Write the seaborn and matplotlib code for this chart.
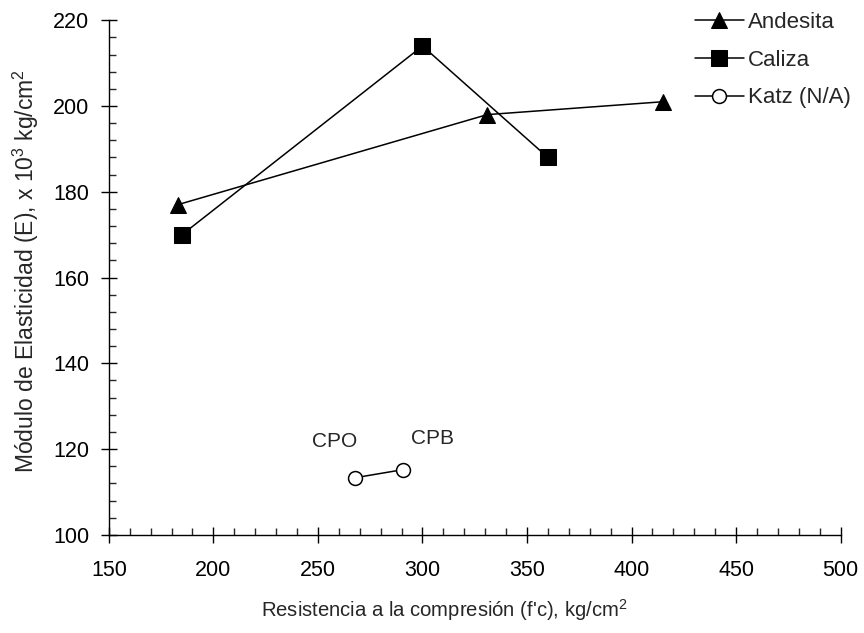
import matplotlib
matplotlib.use("Agg")
import matplotlib.pyplot as plt
import seaborn as sns
import pandas as pd
from matplotlib.ticker import MultipleLocator

sns.set_style("ticks")
plt.rcParams['font.family'] = ['Liberation Sans', 'DejaVu Sans']
plt.rcParams['mathtext.default'] = 'regular'

andesita_x = [183, 331, 415]
andesita_y = [177, 198, 201]
caliza_x = [185, 300, 360]
caliza_y = [170, 214, 188]
katz_x = [267.5, 290.5]
katz_y = [113.3, 115.2]
katz_labels = ["CPO", "CPB"]
katz_label_x = [258, 305]
katz_label_y = [121.7, 122.4]

x_ticks = [150, 200, 250, 300, 350, 400, 450, 500]
y_ticks = [100, 120, 140, 160, 180, 200, 220]

FS = 15

fig = plt.figure(figsize=(8.64, 6.33), dpi=100)
ax = fig.add_axes([0.126, 0.155, 0.847, 0.813])

sns.lineplot(x=andesita_x, y=andesita_y, ax=ax, color='black', lw=1.1,
             marker='^', markersize=12, markeredgecolor='black', label='Andesita')
sns.lineplot(x=caliza_x, y=caliza_y, ax=ax, color='black', lw=1.1,
             marker='s', markersize=11, markeredgecolor='black', label='Caliza')
sns.lineplot(x=katz_x, y=katz_y, ax=ax, color='black', lw=1.1,
             marker='o', markersize=10, markerfacecolor='white',
             markeredgecolor='black', markeredgewidth=1.1, label='Katz (N/A)')

for t, xx, yy in zip(katz_labels, katz_label_x, katz_label_y):
    ax.text(xx, yy, t, ha='center', va='center', fontsize=FS)

ax.set_xlim(150, 500)
ax.set_ylim(100, 220)
ax.set_xticks(x_ticks)
ax.set_yticks(y_ticks)
ax.xaxis.set_minor_locator(MultipleLocator(10))
ax.yaxis.set_minor_locator(MultipleLocator(4))
ax.tick_params(which='major', direction='inout', length=12, width=1, labelsize=15.5, colors='black')
ax.tick_params(axis='x', which='major', pad=12)
ax.tick_params(axis='y', which='major', pad=8)
ax.tick_params(which='minor', direction='in', length=5, width=1)
for s in ['top', 'right']:
    ax.spines[s].set_visible(False)
for s in ['left', 'bottom']:
    ax.spines[s].set_color('black')
    ax.spines[s].set_linewidth(1)

ax.set_xlabel("Resistencia a la compresión (f'c), kg/cm$^{2}$", fontsize=14.6, labelpad=12, x=0.459)
ax.set_ylabel("Módulo de Elasticidad (E), x 10$^{3}$ kg/cm$^{2}$", fontsize=16.5, labelpad=9, y=0.513)

leg = ax.legend(loc='upper left', bbox_to_anchor=(695 / 864, 1 - 12 / 633), bbox_transform=fig.transFigure,
                frameon=False, fontsize=16, handlelength=2.2, handletextpad=0.2,
                labelspacing=0.75, borderpad=0, borderaxespad=0)

fig.savefig("out.png", dpi=100)
